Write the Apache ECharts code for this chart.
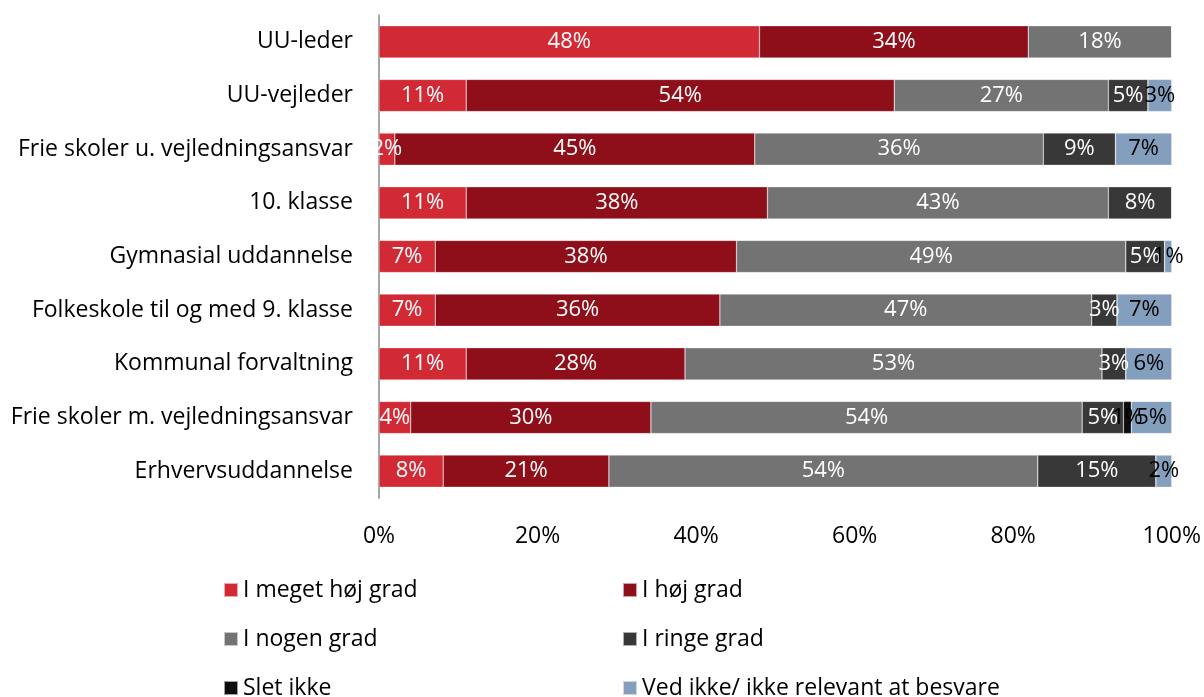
<!DOCTYPE html>
<html><head><meta charset="utf-8">
<script src="https://cdn.jsdelivr.net/npm/echarts@6/dist/echarts.min.js"></script>
<style>html,body{margin:0;padding:0;background:#fff}#c{width:1204px;height:697px}</style>
</head><body><div id="c"></div>
<script>
const categories = ["UU-leder","UU-vejleder","Frie skoler u. vejledningsansvar","10. klasse","Gymnasial uddannelse","Folkeskole til og med 9. klasse","Kommunal forvaltning","Frie skoler m. vejledningsansvar","Erhvervsuddannelse"];
const seriesNames = ["I meget høj grad","I høj grad","I nogen grad","I ringe grad","Slet ikke","Ved ikke/ ikke relevant at besvare"];
const megetHoj = [48.0,11.0,2.0,11.0,7.1,7.1,11.0,4.0,8.1];
const hoj      = [33.9,54.0,45.4,38.0,38.0,35.9,27.6,30.3,20.9];
const nogen    = [18.1,27.0,36.4,43.0,49.1,46.9,52.6,54.4,54.1];
const ringe    = [0,5.0,9.1,8.0,4.9,3.2,3.0,5.2,14.9];
const sletIkke = [0,0,0,0,0,0,0,1.0,0];
const vedIkke  = [0,3.0,7.1,0,0.9,6.9,5.8,5.1,2.0];
const xTicks = ["0%","20%","40%","60%","80%","100%"];

const values = [megetHoj,hoj,nogen,ringe,sletIkke,vedIkke];
const colors = ["#D22A35","#8E0F1A","#737373","#383838","#0D0D0D","#849FBE"];
const labelColors = ["#fff","#fff","#fff","#fff","#000","#000"];
const font = "'Open Sans', sans-serif";

const legendText = {fontSize:23,lineHeight:24,color:'#000',fontFamily:font};
const chart = echarts.init(document.getElementById('c'));
chart.setOption({
  animation:false,
  grid:{left:379,right:32,top:15,bottom:199},
  xAxis:{type:'value',min:0,max:100,interval:20,
    axisLine:{show:false},axisTick:{show:false},splitLine:{show:false},
    axisLabel:{margin:27,fontSize:23,color:'#000',fontFamily:font,
      formatter:(v)=>xTicks[Math.round(v/20)]}},
  yAxis:{type:'category',data:categories,inverse:true,
    axisLine:{lineStyle:{color:'#888',width:1.5}},axisTick:{show:false},
    axisLabel:{fontSize:23,color:'#000',margin:26,fontFamily:font}},
  legend:[
    {left:223,top:578,height:130,orient:'vertical',icon:'rect',itemGap:25,itemWidth:14,itemHeight:14,padding:0,
      textStyle:legendText,data:[seriesNames[0],seriesNames[2],seriesNames[4]]},
    {left:622,top:578,height:130,orient:'vertical',icon:'rect',itemGap:25,itemWidth:14,itemHeight:14,padding:0,
      textStyle:legendText,data:[seriesNames[1],seriesNames[3],seriesNames[5]]}
  ],
  series: seriesNames.map((n,i)=>({
    name:n,type:'bar',stack:'all',barCategoryGap:'40%',
    itemStyle:{color:colors[i],borderColor:'rgba(255,255,255,0.6)',borderWidth:0.5},
    label:{show:true,position:'inside',color:labelColors[i],fontSize:22,fontFamily:font,
      formatter:(p)=>p.value>0?Math.round(p.value)+'%':''},
    data:values[i]
  }))
});
</script></body></html>
